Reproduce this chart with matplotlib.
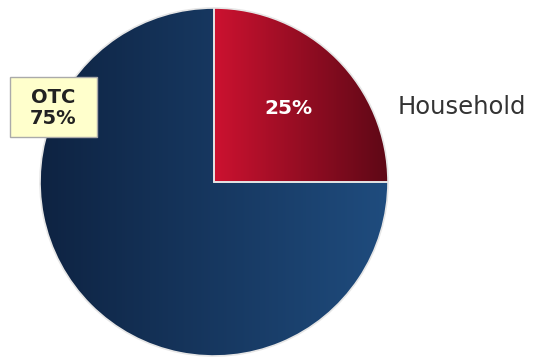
import numpy as np
import matplotlib.pyplot as plt
from matplotlib.colors import LinearSegmentedColormap
from matplotlib.patches import Rectangle

# data
labels = ['Household', 'OTC']
shares = [25, 75]
pct_text = ['25%', 'OTC\n75%']

# gradient colours (left -> right)
grads = [['#cc1230', '#5e0816'], ['#0e2342', '#1f4c7e']]

W, H = 543, 358
fig = plt.figure(figsize=(W / 100, H / 100), dpi=100)
ax = fig.add_axes([0, 0, 1, 1])

cx, cy, R = 214, H - 182, 174
wedges, _ = ax.pie(shares, center=(cx, cy), radius=R, startangle=90,
                   counterclock=False, frame=True,
                   wedgeprops=dict(edgecolor='#e6e6e6', linewidth=1.2))
ax.set_xlim(0, W)
ax.set_ylim(0, H)
ax.set_aspect('equal')
ax.axis('off')

grad = np.linspace(0, 1, 256).reshape(1, -1)
for w, cols in zip(wedges, grads):
    w.set_facecolor('none')
    x0 = cx if w.theta1 >= -1 and w.theta2 <= 91 else cx - R
    cmap = LinearSegmentedColormap.from_list('g', cols)
    im = ax.imshow(grad, cmap=cmap, aspect='auto',
                   extent=[x0, cx + R, cy - R, cy + R], zorder=0)
    im.set_clip_path(w)

# labels
ax.text(288, H - 109, pct_text[0], color='white', fontsize=14.5,
        fontweight='bold', ha='center', va='center', zorder=5)
ax.add_patch(Rectangle((10, H - 137), 87, 60, facecolor='#ffffcc',
                       edgecolor='#aaaaaa', linewidth=1, zorder=4))
ax.text(53, H - 108, pct_text[1], color='#222222', fontsize=14,
        fontweight='bold', ha='center', va='center', linespacing=1.15,
        zorder=5)
ax.text(398, H - 107, labels[0], color='#333333', fontsize=17.5,
        ha='left', va='center', zorder=5)

fig.savefig('out.png', dpi=100)
